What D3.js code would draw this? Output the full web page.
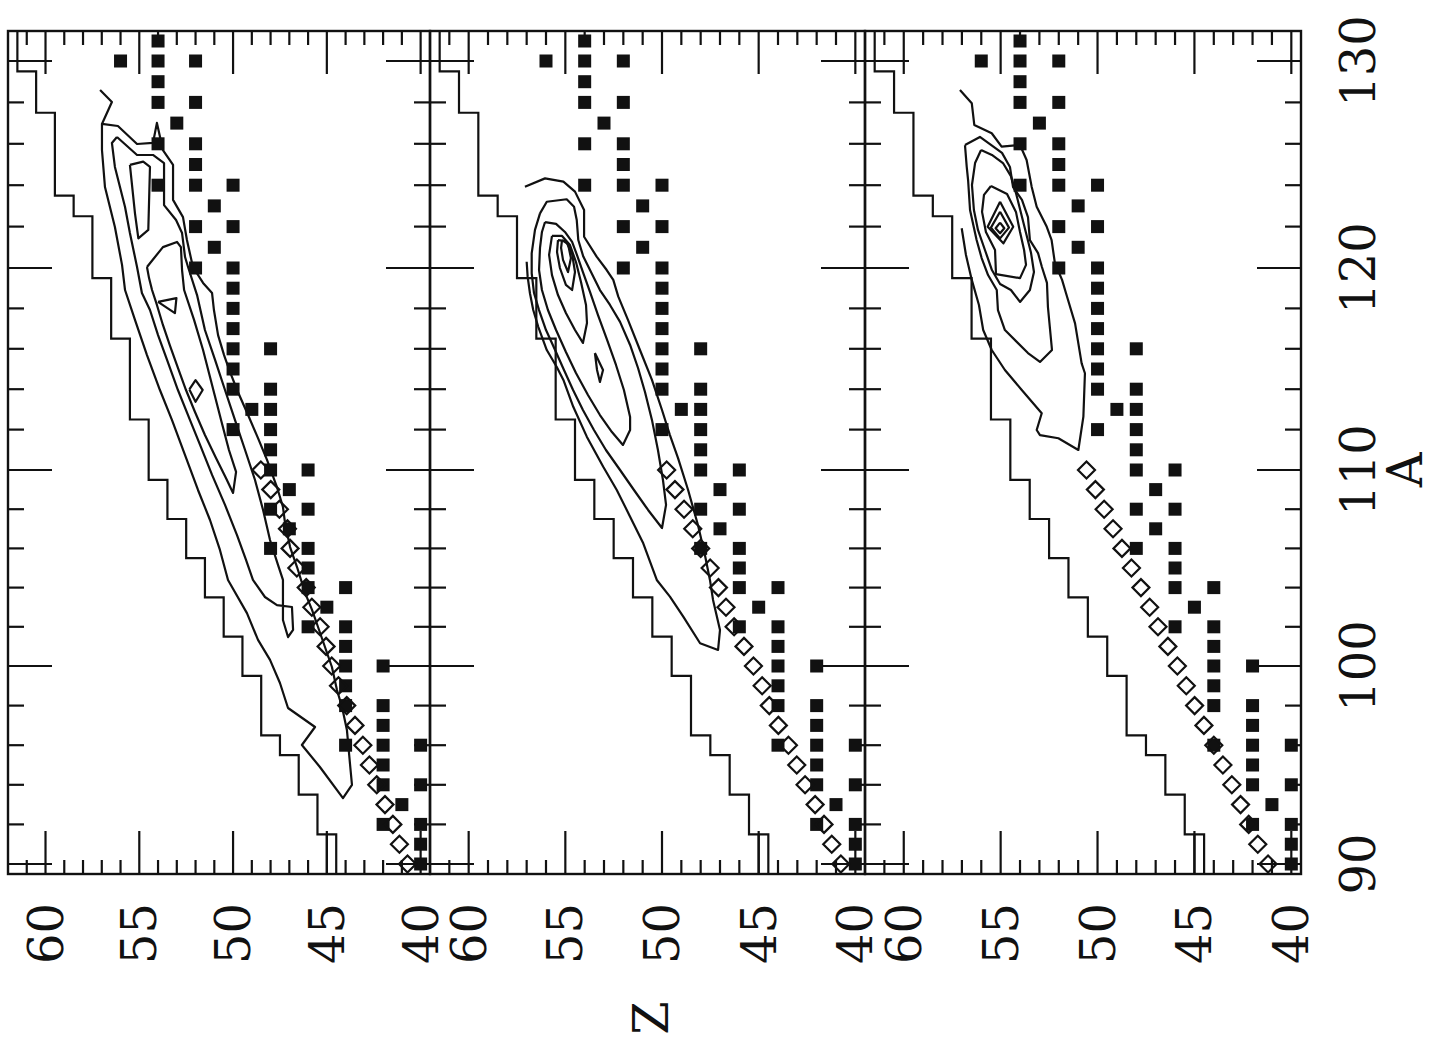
<!DOCTYPE html>
<html><head><meta charset="utf-8">
<script src="https://cdn.jsdelivr.net/npm/d3@7"></script>
<style>body{margin:0;background:#fff}svg{display:block}</style>
</head><body>
<svg id="chart" width="1448" height="1043"></svg>
<script>
// Three side-by-side panels: charge number Z across (decreasing to the right),
// mass number A upward.
const aMajor = [90, 100, 110, 120, 130];
const zMajor = [60, 55, 50, 45, 40];

// stable nuclei, [A, Z]
const stableNuclei = [[131,54],[130,56],[130,54],[130,52],[129,54],[128,54],[128,52],[127,53],[126,54],[126,52],[125,52],[124,54],[124,52],[124,50],[123,51],[122,52],[122,50],[121,51],[120,52],[120,50],[119,50],[118,50],[117,50],[116,50],[116,48],[115,50],[114,50],[114,48],[113,49],[113,48],[112,50],[112,48],[111,48],[110,48],[110,46],[109,47],[108,48],[108,46],[107,47],[106,48],[106,46],[105,46],[104,46],[104,44],[103,45],[102,46],[102,44],[101,44],[100,44],[100,42],[99,44],[98,44],[98,42],[97,42],[96,44],[96,42],[96,40],[95,42],[94,42],[94,40],[93,41],[92,42],[92,40],[91,40],[90,40]];

// boundary staircase: Z edge held between successive A breaks
const edgeA = [89.5, 91.5, 93.5, 95.5, 96.5, 99.5, 101.5, 103.5, 105.5, 107.5, 109.5, 112.5, 116.5, 119.5, 122.5, 123.5, 127.5, 129.5, 131.5];
const edgeZ = [44.5, 45.5, 46.5, 47.5, 48.5, 49.5, 50.5, 51.5, 52.5, 53.5, 54.5, 55.5, 56.5, 57.5, 58.5, 59.5, 60.5, 61.5];
const edgeSpur = [[89.5, 45], [91.5, 45]];

// open diamonds: Z for A = 90 ... 110, one list per panel
const diamondA = [90, 91, 92, 93, 94, 95, 96, 97, 98, 99, 100, 101, 102, 103, 104, 105, 106, 107, 108, 109, 110];
const diamondZ1 = [40.7, 41.13, 41.48, 41.9, 42.34, 42.73, 43.08, 43.5, 43.94, 44.38, 44.74, 45.04, 45.36, 45.8, 46.1, 46.6, 46.96, 47.1, 47.53, 47.99, 48.52];
const diamondZ2 = [40.75, 41.22, 41.62, 42.08, 42.6, 43.03, 43.46, 43.98, 44.45, 44.82, 45.27, 45.76, 46.27, 46.69, 47.08, 47.51, 48.0, 48.41, 48.86, 49.33, 49.76];
const diamondZ3 = [41.2, 41.73, 42.2, 42.62, 43.07, 43.53, 44.0, 44.51, 44.99, 45.42, 45.88, 46.37, 46.88, 47.31, 47.76, 48.25, 48.74, 49.2, 49.66, 50.11, 50.57];

// contour lines, each a list of [A, Z]
const contours1 = [
  [[128.60,57.09],[128.02,56.46],[126.96,56.99],[125.70,56.99],[123.91,56.83],[121.98,56.30],[120.15,55.92],[118.91,55.76],[117.43,55.23],[115.69,54.59],[113.96,53.90],[112.48,53.26],[110.74,52.56],[108.98,51.87],[107.45,51.23],[105.92,50.70],[104.39,50.27],[102.70,49.26],[101.33,48.67],[100.31,48.03],[99.14,47.50],[97.88,47.07],[96.92,45.63],[96.01,46.33],[94.90,45.37],[93.33,44.14],[93.99,43.66],[95.10,43.77],[96.77,43.93],[97.93,44.19],[98.79,44.46],[99.95,44.73],[100.97,45.10],[101.99,45.47],[102.86,45.79],[103.73,46.16],[105.05,46.59],[106.07,46.96],[107.30,47.23],[108.11,47.34],[109.13,47.66],[110.50,48.19],[111.58,48.67],[112.72,49.20],[113.86,49.74],[114.85,50.16],[115.69,50.48],[116.68,50.80],[117.92,51.02],[118.76,51.12],[119.26,51.60],[120.05,52.14],[121.35,52.46],[122.46,52.67],[123.29,53.20],[124.98,53.20],[125.70,53.74],[127.01,54.06],[126.04,54.27],[125.99,55.12],[126.86,56.14],[126.96,56.99]],
  [[126.33,56.19],[126.04,56.46],[124.88,56.30],[122.95,55.76],[121.69,55.50],[120.05,55.12],[118.76,54.86],[117.92,54.43],[116.68,54.00],[115.45,53.52],[113.96,52.94],[112.48,52.30],[111.24,51.76],[109.75,51.12],[108.22,50.43],[106.68,49.79],[105.41,49.31],[104.39,48.94],[103.52,48.30],[103.11,47.66],[103.01,46.86],[101.84,46.80],[101.48,47.07],[102.35,47.34],[103.73,47.34],[104.39,47.34],[105.15,47.60],[106.43,48.03],[107.96,48.40],[109.49,48.83],[110.99,49.36],[112.48,49.90],[113.96,50.43],[115.45,50.96],[116.93,51.50],[118.66,51.92],[120.05,52.40],[120.53,52.56],[121.69,52.72],[122.32,53.04],[123.04,53.68],[125.07,53.68],[125.46,54.27],[125.46,55.12],[126.33,56.19]],
  [[120.05,54.59],[121.01,53.74],[121.26,52.99],[121.01,52.78],[119.90,52.72],[118.91,52.61],[117.43,52.08],[115.94,51.60],[114.21,51.12],[112.48,50.64],[110.99,50.22],[109.90,49.84],[108.83,50.00],[109.59,50.38],[110.59,50.91],[111.73,51.50],[112.87,52.03],[113.96,52.51],[115.05,52.94],[116.14,53.36],[117.18,53.74],[118.17,54.06],[118.91,54.32],[119.50,54.48],[120.05,54.59]],
  [[124.98,55.50],[125.14,54.79],[124.89,54.43],[121.84,54.52],[121.43,55.05],[122.64,55.23],[124.98,55.50]],
  [[118.32,54.00],[118.51,53.02],[117.77,53.10],[118.32,54.00]],
  [[113.99,52.33],[114.45,52.00],[113.96,51.62],[113.38,52.00],[113.99,52.33]]
];
const contours2 = [
  [[123.93,57.09],[124.33,56.05],[124.17,55.10],[123.69,54.50],[122.80,54.03],[121.51,54.03],[120.55,53.38],[119.90,52.86],[119.41,52.52],[118.58,52.26],[117.43,51.76],[115.94,51.14],[114.46,50.52],[112.97,50.00],[111.73,49.59],[110.59,49.17],[108.98,48.65],[107.19,48.14],[105.66,47.78],[104.39,47.52],[103.37,47.36],[101.84,47.00],[100.82,47.10],[101.16,48.03],[102.52,48.90],[103.54,49.59],[104.39,50.27],[106.26,50.97],[107.62,51.65],[108.98,52.34],[110.16,53.04],[111.65,53.89],[113.13,54.59],[114.46,55.10],[115.11,55.45],[115.94,55.96],[117.09,56.40],[117.92,56.66],[118.75,56.83],[119.57,56.95],[120.30,57.00]],
  [[122.64,56.31],[123.20,55.96],[123.32,54.93],[122.96,54.55],[122.32,54.41],[121.35,54.33],[120.55,54.07],[119.74,53.64],[118.91,53.21],[118.17,52.69],[117.33,52.17],[116.19,51.65],[115.05,51.24],[113.86,50.88],[112.48,50.52],[110.99,50.21],[109.49,49.95],[108.22,49.79],[107.04,50.00],[107.96,50.72],[108.98,51.45],[110.00,52.17],[110.99,52.90],[111.98,53.52],[112.97,54.09],[113.96,54.60],[114.95,55.07],[115.94,55.53],[116.93,56.00],[117.92,56.36],[118.76,56.62],[119.74,56.74],[120.71,56.74],[121.84,56.57],[122.64,56.31]],
  [[122.22,56.05],[122.13,55.48],[121.74,55.02],[121.26,54.65],[120.63,54.40],[119.80,54.09],[118.81,53.72],[117.67,53.31],[116.44,52.84],[115.20,52.38],[113.96,51.97],[112.62,51.65],[111.98,51.65],[111.24,52.02],[111.88,52.59],[112.72,53.21],[113.71,53.83],[114.80,54.45],[115.84,54.97],[116.93,55.48],[117.92,55.90],[118.91,56.21],[119.90,56.36],[120.97,56.31],[121.74,56.21],[122.22,56.05]],
  [[121.55,55.69],[121.55,55.17],[121.11,54.76],[120.29,54.45],[119.31,54.19],[118.17,53.93],[117.28,53.88],[116.29,54.09],[116.93,54.50],[117.77,54.97],[118.66,55.38],[119.65,55.69],[120.63,55.84],[121.55,55.69]],
  [[121.35,55.38],[121.30,54.97],[120.68,54.65],[119.80,54.50],[118.91,54.65],[119.16,54.97],[120.00,55.28],[120.77,55.43],[121.35,55.38]],
  [[121.35,55.17],[121.16,54.86],[120.48,54.71],[119.80,54.86],[120.39,55.12],[120.97,55.22],[121.35,55.17]],
  [[115.79,53.47],[114.95,53.05],[114.36,53.21],[114.95,53.36],[115.79,53.47]]
];
const contours3 = [
  [[128.60,57.10],[127.96,56.49],[126.91,56.36],[126.51,55.46],[125.86,54.95],[125.94,54.00],[125.22,53.66],[123.93,53.40],[122.96,53.14],[121.99,52.62],[121.35,52.37],[120.23,52.20],[119.41,51.83],[118.76,51.63],[117.26,51.16],[115.28,50.82],[114.79,50.65],[112.64,50.73],[110.99,50.99],[111.57,52.02],[111.73,52.97],[111.98,53.14],[112.81,52.88],[113.96,53.91],[114.95,54.78],[115.94,55.46],[116.93,55.90],[118.17,56.12],[119.41,56.49],[120.63,56.79],[121.92,57.01]],
  [[125.94,56.84],[126.33,56.07],[125.56,54.93],[124.88,54.52],[123.91,54.36],[123.29,53.90],[122.46,53.59],[121.35,53.49],[120.72,53.07],[120.05,52.87],[119.26,52.61],[118.07,52.56],[115.94,52.35],[115.35,52.97],[115.79,53.59],[116.93,54.78],[117.92,55.14],[118.91,55.20],[119.65,55.65],[120.48,55.98],[121.35,56.24],[122.80,56.58],[124.25,56.68],[124.89,56.75],[125.94,56.84]],
  [[125.70,56.01],[125.46,55.45],[125.07,54.88],[124.44,54.47],[123.62,54.21],[122.66,53.95],[121.69,53.69],[120.72,53.43],[119.80,53.28],[118.91,53.49],[118.32,54.00],[118.91,54.47],[119.21,55.03],[119.90,55.45],[120.87,55.81],[121.84,56.17],[122.80,56.38],[124.01,56.48],[125.07,56.32],[125.70,56.01]],
  [[123.96,55.50],[123.58,54.67],[122.71,54.21],[121.74,54.00],[120.87,53.79],[120.15,53.69],[119.50,54.00],[119.70,55.24],[120.87,55.29],[121.74,55.76],[122.71,55.96],[123.53,55.86],[123.96,55.50]],
  [[123.20,55.03],[121.99,54.35],[121.19,54.86],[121.99,55.67],[123.20,55.03]],
  [[122.72,55.03],[121.95,54.57],[121.43,55.03],[121.95,55.50],[122.72,55.03]],
  [[122.19,55.03],[121.92,54.81],[121.68,55.03],[121.92,55.26],[122.19,55.03]]
];

const panels = [
  { range: [8, 430], diamonds: diamondZ1, contours: contours1 },
  { range: [430, 865], diamonds: diamondZ2, contours: contours2 },
  { range: [865, 1301], diamonds: diamondZ3, contours: contours3 }
];

const svg = d3.select("#chart");
const yA = d3.scaleLinear()
  .domain([89.5, 90, 100, 110, 120, 130, 131.5])
  .range([874, 864, 666, 470, 268, 61, 31]);
const frameTop = 31, frameBottom = 874;
const ink = "#111";
const fontFam = "'DejaVu Serif', 'Liberation Serif', serif";

const aMinor = d3.range(90, 131, 2);
const zMinor = d3.range(40, 62, 1);

panels.forEach(p => {
  const xZ = d3.scaleLinear().domain([62, 39.5]).range(p.range);
  const g = svg.append("g");
  const [x0, x1] = p.range;

  // A ticks on both side edges
  aMinor.forEach(a => {
    const len = a % 10 === 0 ? 44 : 16;
    const y = yA(a);
    g.append("line").attr("x1", x0).attr("x2", x0 + len).attr("y1", y).attr("y2", y)
      .attr("stroke", ink).attr("stroke-width", 2.2);
    g.append("line").attr("x1", x1).attr("x2", x1 - len).attr("y1", y).attr("y2", y)
      .attr("stroke", ink).attr("stroke-width", 2.2);
  });
  // Z ticks on top and bottom edges
  zMinor.forEach(z => {
    const len = z % 5 === 0 ? 43 : 14;
    const x = xZ(z);
    g.append("line").attr("x1", x).attr("x2", x).attr("y1", frameTop).attr("y2", frameTop + len)
      .attr("stroke", ink).attr("stroke-width", 2.2);
    g.append("line").attr("x1", x).attr("x2", x).attr("y1", frameBottom).attr("y2", frameBottom - len)
      .attr("stroke", ink).attr("stroke-width", 2.2);
  });

  // staircase boundary
  const steps = [];
  edgeZ.forEach((z, i) => { steps.push([z, edgeA[i]]); steps.push([z, edgeA[i + 1]]); });
  const line = d3.line().x(d => xZ(d[0])).y(d => yA(d[1]));
  g.append("path").attr("d", line(steps)).attr("fill", "none").attr("stroke", ink).attr("stroke-width", 2.2);
  g.append("path").attr("d", line(edgeSpur.map(d => [d[1], d[0]])))
    .attr("fill", "none").attr("stroke", ink).attr("stroke-width", 2.2);

  // contours
  const cline = d3.line().x(d => xZ(d[1])).y(d => yA(d[0]));
  p.contours.forEach(c => {
    g.append("path").attr("d", cline(c)).attr("fill", "none").attr("stroke", ink)
      .attr("stroke-width", 2.2).attr("stroke-linejoin", "round");
  });

  // stable nuclei
  g.selectAll("rect.sq").data(stableNuclei).join("rect").attr("class", "sq")
    .attr("x", d => xZ(d[1]) - 6.5).attr("y", d => yA(d[0]) - 6.5)
    .attr("width", 13).attr("height", 13).attr("fill", ink);

  // diamonds
  g.selectAll("path.dm").data(diamondA).join("path").attr("class", "dm")
    .attr("d", (a, i) => {
      const cx = xZ(p.diamonds[i]), cy = yA(a), r = 8.5;
      return `M${cx},${cy - r}L${cx + r},${cy}L${cx},${cy + r}L${cx - r},${cy}Z`;
    })
    .attr("fill", "none").attr("stroke", ink).attr("stroke-width", 2.2);

  // frame
  g.append("rect").attr("x", x0).attr("y", frameTop).attr("width", x1 - x0).attr("height", frameBottom - frameTop)
    .attr("fill", "none").attr("stroke", ink).attr("stroke-width", 2.4);

  // Z tick labels
  zMajor.forEach(z => {
    g.append("text").attr("transform", `translate(${xZ(z)},903) rotate(-90)`)
      .attr("text-anchor", "end").attr("dominant-baseline", "central")
      .attr("font-family", fontFam).attr("font-size", 48).attr("fill", ink).text(z);
  });
});

// A tick labels on the right
aMajor.forEach(a => {
  svg.append("text").attr("transform", `translate(1358,${yA(a)}) rotate(-90)`)
    .attr("text-anchor", "middle").attr("dominant-baseline", "central")
    .attr("font-family", fontFam).attr("font-size", 48).attr("fill", ink).text(a);
});
svg.append("text").attr("transform", `translate(1405,${yA(110)}) rotate(-90)`)
  .attr("text-anchor", "middle").attr("dominant-baseline", "central")
  .attr("font-family", fontFam).attr("font-size", 48).attr("fill", ink).text("A");
svg.append("text").attr("transform", `translate(651,1018) rotate(-90)`)
  .attr("text-anchor", "middle").attr("dominant-baseline", "central")
  .attr("font-family", fontFam).attr("font-size", 48).attr("fill", ink).text("Z");
</script>
</body></html>
